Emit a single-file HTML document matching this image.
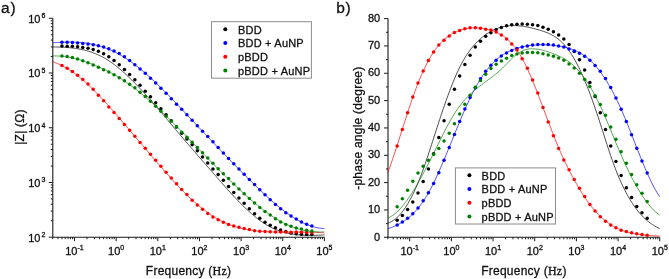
<!DOCTYPE html>
<html><head><meta charset="utf-8"><style>
html,body{margin:0;padding:0;background:#fff;}
body{width:669px;height:279px;overflow:hidden;}
svg{display:block;will-change:transform;}
text{font-family:"Liberation Sans",sans-serif;fill:#111;stroke:#111;stroke-width:0.3px;}
.tl{font-size:11px;}
.sup{font-size:7px;}
.lg{font-size:11px;letter-spacing:0.2px;}
.ttl{font-size:12px;letter-spacing:0.25px;}
.ser{font-family:"Liberation Serif",serif;}
.pl{font-size:15.5px;letter-spacing:0.8px;}
</style></head><body>
<svg width="669" height="279" viewBox="0 0 669 279"><path d="M52.8,18.3V237.2H324.4 M388.0,18.6V237.3H659.7" fill="none" stroke="#1a1a1a" stroke-width="1.1"/><path d="M52.72,237.2v2M57.93,237.2v2M61.96,237.2v2M65.26,237.2v2M68.05,237.2v2M70.46,237.2v2M72.59,237.2v2M74.50,237.2v4M87.04,237.2v2M94.37,237.2v2M99.58,237.2v2M103.61,237.2v2M106.91,237.2v2M109.70,237.2v2M112.11,237.2v2M114.24,237.2v2M116.15,237.2v4M128.69,237.2v2M136.02,237.2v2M141.23,237.2v2M145.26,237.2v2M148.56,237.2v2M151.35,237.2v2M153.76,237.2v2M155.89,237.2v2M157.80,237.2v4M170.34,237.2v2M177.67,237.2v2M182.88,237.2v2M186.91,237.2v2M190.21,237.2v2M193.00,237.2v2M195.41,237.2v2M197.54,237.2v2M199.45,237.2v4M211.99,237.2v2M219.32,237.2v2M224.53,237.2v2M228.56,237.2v2M231.86,237.2v2M234.65,237.2v2M237.06,237.2v2M239.19,237.2v2M241.10,237.2v4M253.64,237.2v2M260.97,237.2v2M266.18,237.2v2M270.21,237.2v2M273.51,237.2v2M276.30,237.2v2M278.71,237.2v2M280.84,237.2v2M282.75,237.2v4M295.29,237.2v2M302.62,237.2v2M307.83,237.2v2M311.86,237.2v2M315.16,237.2v2M317.95,237.2v2M320.36,237.2v2M322.49,237.2v2M324.40,237.2v4M387.91,237.3v2M393.12,237.3v2M397.16,237.3v2M400.46,237.3v2M403.25,237.3v2M405.66,237.3v2M407.79,237.3v2M409.70,237.3v4M422.24,237.3v2M429.58,237.3v2M434.79,237.3v2M438.83,237.3v2M442.13,237.3v2M444.92,237.3v2M447.33,237.3v2M449.46,237.3v2M451.37,237.3v4M463.91,237.3v2M471.25,237.3v2M476.46,237.3v2M480.50,237.3v2M483.80,237.3v2M486.59,237.3v2M489.00,237.3v2M491.13,237.3v2M493.04,237.3v4M505.58,237.3v2M512.92,237.3v2M518.13,237.3v2M522.17,237.3v2M525.47,237.3v2M528.26,237.3v2M530.67,237.3v2M532.80,237.3v2M534.71,237.3v4M547.25,237.3v2M554.59,237.3v2M559.80,237.3v2M563.84,237.3v2M567.14,237.3v2M569.93,237.3v2M572.34,237.3v2M574.47,237.3v2M576.38,237.3v4M588.92,237.3v2M596.26,237.3v2M601.47,237.3v2M605.51,237.3v2M608.81,237.3v2M611.60,237.3v2M614.01,237.3v2M616.14,237.3v2M618.05,237.3v4M630.59,237.3v2M637.93,237.3v2M643.14,237.3v2M647.18,237.3v2M650.48,237.3v2M653.27,237.3v2M655.68,237.3v2M657.81,237.3v2M659.72,237.3v4M52.8,237.20h-4M52.8,220.73h-2M52.8,211.09h-2M52.8,204.25h-2M52.8,198.95h-2M52.8,194.62h-2M52.8,190.95h-2M52.8,187.78h-2M52.8,184.98h-2M52.8,182.48h-4M52.8,166.00h-2M52.8,156.36h-2M52.8,149.53h-2M52.8,144.22h-2M52.8,139.89h-2M52.8,136.23h-2M52.8,133.05h-2M52.8,130.25h-2M52.8,127.75h-4M52.8,111.28h-2M52.8,101.64h-2M52.8,94.80h-2M52.8,89.50h-2M52.8,85.17h-2M52.8,81.50h-2M52.8,78.33h-2M52.8,75.53h-2M52.8,73.03h-4M52.8,56.55h-2M52.8,46.91h-2M52.8,40.08h-2M52.8,34.77h-2M52.8,30.44h-2M52.8,26.78h-2M52.8,23.60h-2M52.8,20.80h-2M52.8,18.30h-4M388.0,237.30h-4M388.0,223.63h-2M388.0,209.96h-4M388.0,196.29h-2M388.0,182.62h-4M388.0,168.96h-2M388.0,155.29h-4M388.0,141.62h-2M388.0,127.95h-4M388.0,114.28h-2M388.0,100.61h-4M388.0,86.94h-2M388.0,73.27h-4M388.0,59.61h-2M388.0,45.94h-4M388.0,32.27h-2M388.0,18.60h-4" fill="none" stroke="#1a1a1a" stroke-width="1"/><path d="M52.80,46.95 L53.71,46.96 L54.62,46.97 L55.53,46.99 L56.43,47.01 L57.34,47.03 L58.25,47.06 L59.16,47.08 L60.07,47.12 L60.98,47.15 L61.88,47.19 L62.79,47.23 L63.70,47.28 L64.61,47.33 L65.52,47.39 L66.43,47.45 L67.33,47.52 L68.24,47.59 L69.15,47.67 L70.06,47.76 L70.97,47.85 L71.88,47.95 L72.78,48.05 L73.69,48.17 L74.60,48.29 L75.51,48.42 L76.42,48.55 L77.33,48.70 L78.23,48.85 L79.14,49.01 L80.05,49.18 L80.96,49.36 L81.87,49.55 L82.78,49.75 L83.68,49.96 L84.59,50.18 L85.50,50.41 L86.41,50.65 L87.32,50.90 L88.23,51.17 L89.13,51.44 L90.04,51.73 L90.95,52.03 L91.86,52.34 L92.77,52.66 L93.68,53.00 L94.58,53.35 L95.49,53.71 L96.40,54.09 L97.31,54.48 L98.22,54.88 L99.13,55.30 L100.03,55.73 L100.94,56.18 L101.85,56.64 L102.76,57.12 L103.67,57.62 L104.58,58.13 L105.48,58.65 L106.39,59.19 L107.30,59.75 L108.21,60.33 L109.12,60.92 L110.03,61.53 L110.94,62.15 L111.84,62.79 L112.75,63.44 L113.66,64.11 L114.57,64.79 L115.48,65.48 L116.39,66.19 L117.29,66.92 L118.20,67.65 L119.11,68.40 L120.02,69.16 L120.93,69.94 L121.84,70.72 L122.74,71.52 L123.65,72.33 L124.56,73.15 L125.47,73.98 L126.38,74.82 L127.29,75.67 L128.19,76.53 L129.10,77.40 L130.01,78.28 L130.92,79.17 L131.83,80.06 L132.74,80.97 L133.64,81.88 L134.55,82.80 L135.46,83.73 L136.37,84.67 L137.28,85.61 L138.19,86.56 L139.09,87.52 L140.00,88.48 L140.91,89.45 L141.82,90.43 L142.73,91.41 L143.64,92.40 L144.54,93.39 L145.45,94.39 L146.36,95.39 L147.27,96.40 L148.18,97.42 L149.09,98.44 L149.99,99.46 L150.90,100.49 L151.81,101.52 L152.72,102.56 L153.63,103.60 L154.54,104.65 L155.44,105.70 L156.35,106.75 L157.26,107.80 L158.17,108.86 L159.08,109.92 L159.99,110.98 L160.89,112.05 L161.80,113.12 L162.71,114.19 L163.62,115.26 L164.53,116.33 L165.44,117.41 L166.35,118.48 L167.25,119.56 L168.16,120.64 L169.07,121.72 L169.98,122.80 L170.89,123.88 L171.80,124.96 L172.70,126.04 L173.61,127.13 L174.52,128.21 L175.43,129.29 L176.34,130.37 L177.25,131.45 L178.15,132.53 L179.06,133.60 L179.97,134.68 L180.88,135.75 L181.79,136.83 L182.70,137.90 L183.60,138.97 L184.51,140.03 L185.42,141.10 L186.33,142.16 L187.24,143.22 L188.15,144.28 L189.05,145.34 L189.96,146.39 L190.87,147.44 L191.78,148.50 L192.69,149.55 L193.60,150.60 L194.50,151.64 L195.41,152.69 L196.32,153.74 L197.23,154.78 L198.14,155.82 L199.05,156.87 L199.95,157.91 L200.86,158.95 L201.77,159.99 L202.68,161.03 L203.59,162.07 L204.50,163.11 L205.40,164.15 L206.31,165.19 L207.22,166.23 L208.13,167.27 L209.04,168.31 L209.95,169.35 L210.85,170.38 L211.76,171.42 L212.67,172.47 L213.58,173.51 L214.49,174.55 L215.40,175.59 L216.31,176.63 L217.21,177.67 L218.12,178.71 L219.03,179.75 L219.94,180.79 L220.85,181.83 L221.76,182.86 L222.66,183.90 L223.57,184.93 L224.48,185.96 L225.39,186.98 L226.30,188.00 L227.21,189.02 L228.11,190.03 L229.02,191.04 L229.93,192.04 L230.84,193.04 L231.75,194.04 L232.66,195.02 L233.56,196.01 L234.47,196.98 L235.38,197.95 L236.29,198.91 L237.20,199.87 L238.11,200.81 L239.01,201.75 L239.92,202.68 L240.83,203.61 L241.74,204.52 L242.65,205.43 L243.56,206.32 L244.46,207.21 L245.37,208.08 L246.28,208.94 L247.19,209.80 L248.10,210.64 L249.01,211.47 L249.91,212.29 L250.82,213.10 L251.73,213.90 L252.64,214.68 L253.55,215.45 L254.46,216.20 L255.36,216.95 L256.27,217.68 L257.18,218.39 L258.09,219.09 L259.00,219.78 L259.91,220.45 L260.81,221.10 L261.72,221.74 L262.63,222.36 L263.54,222.97 L264.45,223.56 L265.36,224.13 L266.26,224.69 L267.17,225.23 L268.08,225.75 L268.99,226.25 L269.90,226.74 L270.81,227.21 L271.72,227.66 L272.62,228.10 L273.53,228.52 L274.44,228.93 L275.35,229.32 L276.26,229.69 L277.17,230.06 L278.07,230.40 L278.98,230.74 L279.89,231.06 L280.80,231.36 L281.71,231.65 L282.62,231.93 L283.52,232.20 L284.43,232.45 L285.34,232.69 L286.25,232.92 L287.16,233.14 L288.07,233.34 L288.97,233.54 L289.88,233.72 L290.79,233.89 L291.70,234.05 L292.61,234.20 L293.52,234.34 L294.42,234.47 L295.33,234.59 L296.24,234.70 L297.15,234.81 L298.06,234.90 L298.97,234.99 L299.87,235.06 L300.78,235.13 L301.69,235.19 L302.60,235.25 L303.51,235.29 L304.42,235.33 L305.32,235.36 L306.23,235.39 L307.14,235.41 L308.05,235.42 L308.96,235.43 L309.87,235.43 L310.77,235.43 L311.68,235.42 L312.59,235.40 L313.50,235.39 L314.41,235.36 L315.32,235.34 L316.22,235.31 L317.13,235.28 L318.04,235.24 L318.95,235.20 L319.86,235.16 L320.77,235.11 L321.67,235.07 L322.58,235.02 L323.49,234.97 L324.40,234.92" fill="none" stroke="#000000" stroke-width="0.7"/><path d="M52.80,42.79 L53.71,42.72 L54.62,42.66 L55.53,42.60 L56.43,42.54 L57.34,42.49 L58.25,42.44 L59.16,42.39 L60.07,42.34 L60.98,42.30 L61.88,42.26 L62.79,42.23 L63.70,42.20 L64.61,42.17 L65.52,42.15 L66.43,42.13 L67.33,42.11 L68.24,42.10 L69.15,42.10 L70.06,42.10 L70.97,42.11 L71.88,42.12 L72.78,42.14 L73.69,42.16 L74.60,42.19 L75.51,42.23 L76.42,42.27 L77.33,42.32 L78.23,42.37 L79.14,42.44 L80.05,42.51 L80.96,42.58 L81.87,42.67 L82.78,42.76 L83.68,42.86 L84.59,42.97 L85.50,43.09 L86.41,43.21 L87.32,43.35 L88.23,43.49 L89.13,43.64 L90.04,43.80 L90.95,43.97 L91.86,44.15 L92.77,44.34 L93.68,44.54 L94.58,44.75 L95.49,44.97 L96.40,45.20 L97.31,45.44 L98.22,45.69 L99.13,45.95 L100.03,46.22 L100.94,46.50 L101.85,46.79 L102.76,47.09 L103.67,47.41 L104.58,47.73 L105.48,48.06 L106.39,48.40 L107.30,48.76 L108.21,49.12 L109.12,49.50 L110.03,49.88 L110.94,50.28 L111.84,50.69 L112.75,51.11 L113.66,51.54 L114.57,51.98 L115.48,52.43 L116.39,52.89 L117.29,53.37 L118.20,53.85 L119.11,54.35 L120.02,54.85 L120.93,55.37 L121.84,55.90 L122.74,56.44 L123.65,56.99 L124.56,57.56 L125.47,58.13 L126.38,58.72 L127.29,59.32 L128.19,59.92 L129.10,60.54 L130.01,61.17 L130.92,61.81 L131.83,62.46 L132.74,63.12 L133.64,63.79 L134.55,64.47 L135.46,65.16 L136.37,65.86 L137.28,66.57 L138.19,67.29 L139.09,68.01 L140.00,68.75 L140.91,69.49 L141.82,70.24 L142.73,71.01 L143.64,71.77 L144.54,72.55 L145.45,73.34 L146.36,74.13 L147.27,74.93 L148.18,75.73 L149.09,76.55 L149.99,77.37 L150.90,78.20 L151.81,79.03 L152.72,79.87 L153.63,80.72 L154.54,81.57 L155.44,82.43 L156.35,83.30 L157.26,84.17 L158.17,85.04 L159.08,85.93 L159.99,86.81 L160.89,87.71 L161.80,88.60 L162.71,89.50 L163.62,90.41 L164.53,91.32 L165.44,92.23 L166.35,93.15 L167.25,94.08 L168.16,95.00 L169.07,95.93 L169.98,96.86 L170.89,97.80 L171.80,98.74 L172.70,99.68 L173.61,100.63 L174.52,101.57 L175.43,102.52 L176.34,103.48 L177.25,104.43 L178.15,105.39 L179.06,106.34 L179.97,107.30 L180.88,108.26 L181.79,109.23 L182.70,110.19 L183.60,111.15 L184.51,112.12 L185.42,113.08 L186.33,114.05 L187.24,115.02 L188.15,115.98 L189.05,116.95 L189.96,117.91 L190.87,118.88 L191.78,119.85 L192.69,120.81 L193.60,121.78 L194.50,122.74 L195.41,123.71 L196.32,124.68 L197.23,125.64 L198.14,126.61 L199.05,127.57 L199.95,128.54 L200.86,129.50 L201.77,130.47 L202.68,131.43 L203.59,132.39 L204.50,133.36 L205.40,134.32 L206.31,135.28 L207.22,136.24 L208.13,137.20 L209.04,138.16 L209.95,139.12 L210.85,140.08 L211.76,141.04 L212.67,142.00 L213.58,142.95 L214.49,143.91 L215.40,144.86 L216.31,145.82 L217.21,146.77 L218.12,147.72 L219.03,148.67 L219.94,149.62 L220.85,150.57 L221.76,151.52 L222.66,152.47 L223.57,153.41 L224.48,154.36 L225.39,155.30 L226.30,156.24 L227.21,157.18 L228.11,158.12 L229.02,159.06 L229.93,160.00 L230.84,160.93 L231.75,161.87 L232.66,162.80 L233.56,163.73 L234.47,164.66 L235.38,165.59 L236.29,166.51 L237.20,167.44 L238.11,168.36 L239.01,169.28 L239.92,170.20 L240.83,171.12 L241.74,172.03 L242.65,172.95 L243.56,173.86 L244.46,174.77 L245.37,175.68 L246.28,176.58 L247.19,177.49 L248.10,178.39 L249.01,179.29 L249.91,180.19 L250.82,181.08 L251.73,181.98 L252.64,182.87 L253.55,183.76 L254.46,184.64 L255.36,185.53 L256.27,186.41 L257.18,187.29 L258.09,188.17 L259.00,189.04 L259.91,189.91 L260.81,190.77 L261.72,191.64 L262.63,192.50 L263.54,193.35 L264.45,194.20 L265.36,195.04 L266.26,195.88 L267.17,196.72 L268.08,197.54 L268.99,198.37 L269.90,199.18 L270.81,199.99 L271.72,200.80 L272.62,201.59 L273.53,202.39 L274.44,203.17 L275.35,203.94 L276.26,204.71 L277.17,205.47 L278.07,206.23 L278.98,206.97 L279.89,207.71 L280.80,208.43 L281.71,209.15 L282.62,209.86 L283.52,210.56 L284.43,211.25 L285.34,211.93 L286.25,212.60 L287.16,213.26 L288.07,213.91 L288.97,214.54 L289.88,215.17 L290.79,215.79 L291.70,216.39 L292.61,216.98 L293.52,217.56 L294.42,218.13 L295.33,218.69 L296.24,219.23 L297.15,219.76 L298.06,220.28 L298.97,220.78 L299.87,221.27 L300.78,221.75 L301.69,222.21 L302.60,222.66 L303.51,223.09 L304.42,223.51 L305.32,223.91 L306.23,224.30 L307.14,224.68 L308.05,225.03 L308.96,225.38 L309.87,225.70 L310.77,226.01 L311.68,226.30 L312.59,226.58 L313.50,226.84 L314.41,227.08 L315.32,227.30 L316.22,227.51 L317.13,227.70 L318.04,227.86 L318.95,228.02 L319.86,228.15 L320.77,228.26 L321.67,228.36 L322.58,228.43 L323.49,228.49 L324.40,228.52" fill="none" stroke="#0000ff" stroke-width="0.7"/><path d="M52.80,61.89 L53.71,62.17 L54.62,62.47 L55.53,62.79 L56.43,63.12 L57.34,63.47 L58.25,63.85 L59.16,64.24 L60.07,64.64 L60.98,65.07 L61.88,65.51 L62.79,65.97 L63.70,66.45 L64.61,66.94 L65.52,67.45 L66.43,67.97 L67.33,68.51 L68.24,69.07 L69.15,69.64 L70.06,70.23 L70.97,70.83 L71.88,71.45 L72.78,72.08 L73.69,72.72 L74.60,73.38 L75.51,74.06 L76.42,74.74 L77.33,75.44 L78.23,76.15 L79.14,76.88 L80.05,77.62 L80.96,78.37 L81.87,79.13 L82.78,79.90 L83.68,80.69 L84.59,81.49 L85.50,82.29 L86.41,83.11 L87.32,83.94 L88.23,84.78 L89.13,85.63 L90.04,86.49 L90.95,87.36 L91.86,88.24 L92.77,89.13 L93.68,90.03 L94.58,90.93 L95.49,91.85 L96.40,92.77 L97.31,93.70 L98.22,94.64 L99.13,95.59 L100.03,96.54 L100.94,97.50 L101.85,98.47 L102.76,99.45 L103.67,100.43 L104.58,101.41 L105.48,102.41 L106.39,103.41 L107.30,104.41 L108.21,105.42 L109.12,106.43 L110.03,107.45 L110.94,108.48 L111.84,109.51 L112.75,110.54 L113.66,111.57 L114.57,112.61 L115.48,113.66 L116.39,114.70 L117.29,115.75 L118.20,116.80 L119.11,117.86 L120.02,118.91 L120.93,119.97 L121.84,121.03 L122.74,122.09 L123.65,123.15 L124.56,124.22 L125.47,125.28 L126.38,126.35 L127.29,127.41 L128.19,128.48 L129.10,129.54 L130.01,130.61 L130.92,131.68 L131.83,132.75 L132.74,133.81 L133.64,134.88 L134.55,135.95 L135.46,137.02 L136.37,138.09 L137.28,139.16 L138.19,140.23 L139.09,141.30 L140.00,142.37 L140.91,143.44 L141.82,144.50 L142.73,145.57 L143.64,146.64 L144.54,147.71 L145.45,148.78 L146.36,149.84 L147.27,150.91 L148.18,151.98 L149.09,153.04 L149.99,154.11 L150.90,155.17 L151.81,156.23 L152.72,157.30 L153.63,158.36 L154.54,159.42 L155.44,160.48 L156.35,161.54 L157.26,162.59 L158.17,163.65 L159.08,164.70 L159.99,165.76 L160.89,166.81 L161.80,167.85 L162.71,168.90 L163.62,169.94 L164.53,170.98 L165.44,172.02 L166.35,173.05 L167.25,174.08 L168.16,175.10 L169.07,176.12 L169.98,177.14 L170.89,178.15 L171.80,179.15 L172.70,180.15 L173.61,181.15 L174.52,182.14 L175.43,183.12 L176.34,184.10 L177.25,185.07 L178.15,186.04 L179.06,187.00 L179.97,187.95 L180.88,188.89 L181.79,189.83 L182.70,190.76 L183.60,191.68 L184.51,192.59 L185.42,193.49 L186.33,194.39 L187.24,195.27 L188.15,196.15 L189.05,197.02 L189.96,197.88 L190.87,198.73 L191.78,199.57 L192.69,200.40 L193.60,201.22 L194.50,202.03 L195.41,202.83 L196.32,203.62 L197.23,204.40 L198.14,205.17 L199.05,205.93 L199.95,206.68 L200.86,207.42 L201.77,208.15 L202.68,208.87 L203.59,209.58 L204.50,210.27 L205.40,210.96 L206.31,211.63 L207.22,212.29 L208.13,212.94 L209.04,213.58 L209.95,214.21 L210.85,214.83 L211.76,215.43 L212.67,216.02 L213.58,216.60 L214.49,217.17 L215.40,217.73 L216.31,218.27 L217.21,218.80 L218.12,219.32 L219.03,219.83 L219.94,220.32 L220.85,220.80 L221.76,221.27 L222.66,221.72 L223.57,222.16 L224.48,222.59 L225.39,223.00 L226.30,223.40 L227.21,223.79 L228.11,224.17 L229.02,224.53 L229.93,224.89 L230.84,225.23 L231.75,225.56 L232.66,225.87 L233.56,226.18 L234.47,226.48 L235.38,226.76 L236.29,227.04 L237.20,227.30 L238.11,227.56 L239.01,227.80 L239.92,228.04 L240.83,228.27 L241.74,228.48 L242.65,228.69 L243.56,228.89 L244.46,229.08 L245.37,229.27 L246.28,229.44 L247.19,229.61 L248.10,229.77 L249.01,229.92 L249.91,230.07 L250.82,230.21 L251.73,230.34 L252.64,230.47 L253.55,230.59 L254.46,230.70 L255.36,230.81 L256.27,230.91 L257.18,231.01 L258.09,231.10 L259.00,231.19 L259.91,231.27 L260.81,231.35 L261.72,231.42 L262.63,231.49 L263.54,231.55 L264.45,231.61 L265.36,231.66 L266.26,231.71 L267.17,231.76 L268.08,231.80 L268.99,231.84 L269.90,231.87 L270.81,231.91 L271.72,231.94 L272.62,231.96 L273.53,231.98 L274.44,232.00 L275.35,232.02 L276.26,232.04 L277.17,232.05 L278.07,232.06 L278.98,232.07 L279.89,232.07 L280.80,232.08 L281.71,232.08 L282.62,232.08 L283.52,232.08 L284.43,232.08 L285.34,232.08 L286.25,232.08 L287.16,232.07 L288.07,232.07 L288.97,232.06 L289.88,232.06 L290.79,232.05 L291.70,232.05 L292.61,232.04 L293.52,232.03 L294.42,232.03 L295.33,232.02 L296.24,232.02 L297.15,232.02 L298.06,232.01 L298.97,232.01 L299.87,232.01 L300.78,232.01 L301.69,232.01 L302.60,232.02 L303.51,232.02 L304.42,232.03 L305.32,232.04 L306.23,232.05 L307.14,232.07 L308.05,232.08 L308.96,232.10 L309.87,232.12 L310.77,232.15 L311.68,232.17 L312.59,232.20 L313.50,232.24 L314.41,232.28 L315.32,232.32 L316.22,232.36 L317.13,232.41 L318.04,232.46 L318.95,232.52 L319.86,232.58 L320.77,232.64 L321.67,232.71 L322.58,232.79 L323.49,232.87 L324.40,232.95" fill="none" stroke="#ff0000" stroke-width="0.7"/><path d="M52.80,55.93 L53.71,55.92 L54.62,55.91 L55.53,55.92 L56.43,55.94 L57.34,55.97 L58.25,56.02 L59.16,56.07 L60.07,56.13 L60.98,56.21 L61.88,56.29 L62.79,56.38 L63.70,56.49 L64.61,56.60 L65.52,56.73 L66.43,56.86 L67.33,57.00 L68.24,57.16 L69.15,57.32 L70.06,57.49 L70.97,57.67 L71.88,57.86 L72.78,58.06 L73.69,58.27 L74.60,58.48 L75.51,58.71 L76.42,58.94 L77.33,59.18 L78.23,59.43 L79.14,59.69 L80.05,59.95 L80.96,60.22 L81.87,60.50 L82.78,60.79 L83.68,61.09 L84.59,61.39 L85.50,61.70 L86.41,62.01 L87.32,62.33 L88.23,62.66 L89.13,63.00 L90.04,63.34 L90.95,63.69 L91.86,64.04 L92.77,64.40 L93.68,64.77 L94.58,65.14 L95.49,65.52 L96.40,65.90 L97.31,66.29 L98.22,66.68 L99.13,67.09 L100.03,67.49 L100.94,67.91 L101.85,68.33 L102.76,68.76 L103.67,69.19 L104.58,69.63 L105.48,70.08 L106.39,70.53 L107.30,70.99 L108.21,71.46 L109.12,71.93 L110.03,72.41 L110.94,72.90 L111.84,73.40 L112.75,73.90 L113.66,74.41 L114.57,74.93 L115.48,75.46 L116.39,75.99 L117.29,76.53 L118.20,77.08 L119.11,77.64 L120.02,78.20 L120.93,78.77 L121.84,79.35 L122.74,79.94 L123.65,80.54 L124.56,81.14 L125.47,81.75 L126.38,82.37 L127.29,83.00 L128.19,83.64 L129.10,84.29 L130.01,84.94 L130.92,85.60 L131.83,86.27 L132.74,86.94 L133.64,87.63 L134.55,88.32 L135.46,89.01 L136.37,89.72 L137.28,90.43 L138.19,91.15 L139.09,91.87 L140.00,92.60 L140.91,93.34 L141.82,94.08 L142.73,94.83 L143.64,95.59 L144.54,96.35 L145.45,97.12 L146.36,97.90 L147.27,98.68 L148.18,99.46 L149.09,100.26 L149.99,101.05 L150.90,101.86 L151.81,102.66 L152.72,103.48 L153.63,104.29 L154.54,105.12 L155.44,105.94 L156.35,106.78 L157.26,107.61 L158.17,108.46 L159.08,109.30 L159.99,110.15 L160.89,111.01 L161.80,111.87 L162.71,112.73 L163.62,113.59 L164.53,114.47 L165.44,115.34 L166.35,116.22 L167.25,117.10 L168.16,117.98 L169.07,118.87 L169.98,119.76 L170.89,120.65 L171.80,121.55 L172.70,122.45 L173.61,123.35 L174.52,124.26 L175.43,125.17 L176.34,126.08 L177.25,126.99 L178.15,127.90 L179.06,128.82 L179.97,129.74 L180.88,130.66 L181.79,131.58 L182.70,132.51 L183.60,133.43 L184.51,134.36 L185.42,135.29 L186.33,136.22 L187.24,137.15 L188.15,138.08 L189.05,139.01 L189.96,139.95 L190.87,140.88 L191.78,141.82 L192.69,142.75 L193.60,143.69 L194.50,144.63 L195.41,145.56 L196.32,146.50 L197.23,147.44 L198.14,148.38 L199.05,149.32 L199.95,150.25 L200.86,151.19 L201.77,152.13 L202.68,153.06 L203.59,154.00 L204.50,154.94 L205.40,155.87 L206.31,156.80 L207.22,157.74 L208.13,158.67 L209.04,159.60 L209.95,160.53 L210.85,161.46 L211.76,162.39 L212.67,163.31 L213.58,164.24 L214.49,165.16 L215.40,166.08 L216.31,167.00 L217.21,167.92 L218.12,168.83 L219.03,169.75 L219.94,170.66 L220.85,171.57 L221.76,172.47 L222.66,173.38 L223.57,174.28 L224.48,175.18 L225.39,176.07 L226.30,176.97 L227.21,177.86 L228.11,178.75 L229.02,179.63 L229.93,180.51 L230.84,181.39 L231.75,182.26 L232.66,183.13 L233.56,184.00 L234.47,184.87 L235.38,185.73 L236.29,186.58 L237.20,187.43 L238.11,188.28 L239.01,189.13 L239.92,189.97 L240.83,190.80 L241.74,191.63 L242.65,192.46 L243.56,193.28 L244.46,194.10 L245.37,194.91 L246.28,195.72 L247.19,196.52 L248.10,197.32 L249.01,198.11 L249.91,198.90 L250.82,199.68 L251.73,200.46 L252.64,201.23 L253.55,201.99 L254.46,202.75 L255.36,203.51 L256.27,204.26 L257.18,205.00 L258.09,205.73 L259.00,206.46 L259.91,207.18 L260.81,207.90 L261.72,208.61 L262.63,209.31 L263.54,210.00 L264.45,210.69 L265.36,211.36 L266.26,212.03 L267.17,212.69 L268.08,213.34 L268.99,213.98 L269.90,214.62 L270.81,215.24 L271.72,215.86 L272.62,216.46 L273.53,217.06 L274.44,217.64 L275.35,218.22 L276.26,218.78 L277.17,219.33 L278.07,219.88 L278.98,220.41 L279.89,220.93 L280.80,221.44 L281.71,221.93 L282.62,222.42 L283.52,222.89 L284.43,223.35 L285.34,223.80 L286.25,224.23 L287.16,224.65 L288.07,225.06 L288.97,225.46 L289.88,225.84 L290.79,226.21 L291.70,226.57 L292.61,226.92 L293.52,227.25 L294.42,227.57 L295.33,227.88 L296.24,228.18 L297.15,228.47 L298.06,228.74 L298.97,229.00 L299.87,229.25 L300.78,229.49 L301.69,229.72 L302.60,229.93 L303.51,230.14 L304.42,230.33 L305.32,230.51 L306.23,230.68 L307.14,230.84 L308.05,230.99 L308.96,231.13 L309.87,231.25 L310.77,231.37 L311.68,231.48 L312.59,231.57 L313.50,231.66 L314.41,231.73 L315.32,231.79 L316.22,231.85 L317.13,231.89 L318.04,231.92 L318.95,231.95 L319.86,231.96 L320.77,231.96 L321.67,231.96 L322.58,231.94 L323.49,231.91 L324.40,231.88" fill="none" stroke="#008000" stroke-width="0.7"/><path d="M388.00,222.96 L388.91,222.67 L389.82,222.32 L390.73,221.92 L391.63,221.46 L392.54,220.94 L393.45,220.37 L394.36,219.74 L395.27,219.05 L396.18,218.31 L397.09,217.51 L398.00,216.65 L398.90,215.73 L399.81,214.76 L400.72,213.72 L401.63,212.63 L402.54,211.49 L403.45,210.28 L404.36,209.01 L405.27,207.69 L406.17,206.31 L407.08,204.87 L407.99,203.37 L408.90,201.81 L409.81,200.20 L410.72,198.52 L411.63,196.78 L412.53,194.99 L413.44,193.13 L414.35,191.22 L415.26,189.25 L416.17,187.21 L417.08,185.12 L417.99,182.97 L418.90,180.76 L419.80,178.48 L420.71,176.15 L421.62,173.75 L422.53,171.30 L423.44,168.79 L424.35,166.23 L425.26,163.63 L426.17,160.98 L427.07,158.30 L427.98,155.58 L428.89,152.83 L429.80,150.06 L430.71,147.27 L431.62,144.46 L432.53,141.64 L433.43,138.82 L434.34,135.98 L435.25,133.15 L436.16,130.33 L437.07,127.51 L437.98,124.71 L438.89,121.93 L439.80,119.16 L440.70,116.42 L441.61,113.70 L442.52,111.00 L443.43,108.34 L444.34,105.70 L445.25,103.09 L446.16,100.51 L447.07,97.97 L447.97,95.46 L448.88,93.00 L449.79,90.57 L450.70,88.19 L451.61,85.84 L452.52,83.55 L453.43,81.30 L454.33,79.11 L455.24,76.96 L456.15,74.87 L457.06,72.84 L457.97,70.86 L458.88,68.94 L459.79,67.09 L460.70,65.29 L461.60,63.56 L462.51,61.89 L463.42,60.28 L464.33,58.72 L465.24,57.22 L466.15,55.78 L467.06,54.39 L467.97,53.04 L468.87,51.75 L469.78,50.50 L470.69,49.30 L471.60,48.15 L472.51,47.03 L473.42,45.95 L474.33,44.92 L475.23,43.92 L476.14,42.95 L477.05,42.02 L477.96,41.12 L478.87,40.25 L479.78,39.41 L480.69,38.60 L481.60,37.82 L482.50,37.06 L483.41,36.34 L484.32,35.64 L485.23,34.97 L486.14,34.32 L487.05,33.70 L487.96,33.11 L488.87,32.55 L489.77,32.00 L490.68,31.49 L491.59,31.00 L492.50,30.53 L493.41,30.09 L494.32,29.67 L495.23,29.27 L496.13,28.90 L497.04,28.54 L497.95,28.22 L498.86,27.91 L499.77,27.62 L500.68,27.35 L501.59,27.11 L502.50,26.88 L503.40,26.67 L504.31,26.49 L505.22,26.32 L506.13,26.17 L507.04,26.04 L507.95,25.92 L508.86,25.83 L509.77,25.75 L510.67,25.69 L511.58,25.64 L512.49,25.61 L513.40,25.59 L514.31,25.59 L515.22,25.61 L516.13,25.64 L517.03,25.68 L517.94,25.74 L518.85,25.81 L519.76,25.89 L520.67,25.98 L521.58,26.09 L522.49,26.21 L523.40,26.34 L524.30,26.48 L525.21,26.63 L526.12,26.79 L527.03,26.96 L527.94,27.14 L528.85,27.33 L529.76,27.53 L530.67,27.74 L531.57,27.95 L532.48,28.17 L533.39,28.40 L534.30,28.64 L535.21,28.88 L536.12,29.13 L537.03,29.38 L537.93,29.64 L538.84,29.90 L539.75,30.17 L540.66,30.44 L541.57,30.72 L542.48,31.01 L543.39,31.31 L544.30,31.62 L545.20,31.95 L546.11,32.29 L547.02,32.64 L547.93,33.02 L548.84,33.41 L549.75,33.83 L550.66,34.27 L551.57,34.73 L552.47,35.22 L553.38,35.74 L554.29,36.28 L555.20,36.86 L556.11,37.47 L557.02,38.12 L557.93,38.80 L558.83,39.52 L559.74,40.28 L560.65,41.08 L561.56,41.93 L562.47,42.81 L563.38,43.75 L564.29,44.73 L565.20,45.76 L566.10,46.84 L567.01,47.97 L567.92,49.15 L568.83,50.40 L569.74,51.69 L570.65,53.04 L571.56,54.45 L572.47,55.91 L573.37,57.42 L574.28,58.98 L575.19,60.60 L576.10,62.26 L577.01,63.98 L577.92,65.75 L578.83,67.57 L579.73,69.44 L580.64,71.35 L581.55,73.32 L582.46,75.33 L583.37,77.40 L584.28,79.51 L585.19,81.66 L586.10,83.86 L587.00,86.11 L587.91,88.41 L588.82,90.74 L589.73,93.13 L590.64,95.55 L591.55,98.02 L592.46,100.54 L593.37,103.09 L594.27,105.69 L595.18,108.31 L596.09,110.98 L597.00,113.67 L597.91,116.39 L598.82,119.14 L599.73,121.91 L600.63,124.71 L601.54,127.52 L602.45,130.35 L603.36,133.19 L604.27,136.03 L605.18,138.88 L606.09,141.72 L607.00,144.55 L607.90,147.35 L608.81,150.13 L609.72,152.86 L610.63,155.56 L611.54,158.20 L612.45,160.79 L613.36,163.31 L614.27,165.77 L615.17,168.17 L616.08,170.52 L616.99,172.80 L617.90,175.02 L618.81,177.19 L619.72,179.31 L620.63,181.36 L621.53,183.37 L622.44,185.31 L623.35,187.21 L624.26,189.05 L625.17,190.85 L626.08,192.59 L626.99,194.28 L627.90,195.92 L628.80,197.51 L629.71,199.06 L630.62,200.56 L631.53,202.01 L632.44,203.42 L633.35,204.78 L634.26,206.10 L635.17,207.38 L636.07,208.62 L636.98,209.81 L637.89,210.96 L638.80,212.08 L639.71,213.15 L640.62,214.19 L641.53,215.19 L642.43,216.15 L643.34,217.08 L644.25,217.97 L645.16,218.83 L646.07,219.65 L646.98,220.45 L647.89,221.21 L648.80,221.94 L649.70,222.63 L650.61,223.30 L651.52,223.95 L652.43,224.56 L653.34,225.15 L654.25,225.71 L655.16,226.24 L656.07,226.75 L656.97,227.24 L657.88,227.70 L658.79,228.14 L659.70,228.56" fill="none" stroke="#000000" stroke-width="0.7"/><path d="M388.00,228.66 L388.91,228.35 L389.82,228.04 L390.73,227.71 L391.63,227.38 L392.54,227.03 L393.45,226.66 L394.36,226.28 L395.27,225.89 L396.18,225.47 L397.09,225.04 L398.00,224.59 L398.90,224.12 L399.81,223.63 L400.72,223.12 L401.63,222.59 L402.54,222.04 L403.45,221.46 L404.36,220.85 L405.27,220.22 L406.17,219.57 L407.08,218.89 L407.99,218.17 L408.90,217.43 L409.81,216.66 L410.72,215.86 L411.63,215.03 L412.53,214.16 L413.44,213.27 L414.35,212.33 L415.26,211.36 L416.17,210.36 L417.08,209.32 L417.99,208.24 L418.90,207.12 L419.80,205.97 L420.71,204.77 L421.62,203.53 L422.53,202.25 L423.44,200.92 L424.35,199.56 L425.26,198.14 L426.17,196.69 L427.07,195.18 L427.98,193.63 L428.89,192.03 L429.80,190.38 L430.71,188.69 L431.62,186.95 L432.53,185.17 L433.43,183.35 L434.34,181.49 L435.25,179.60 L436.16,177.67 L437.07,175.71 L437.98,173.71 L438.89,171.69 L439.80,169.64 L440.70,167.57 L441.61,165.47 L442.52,163.35 L443.43,161.21 L444.34,159.05 L445.25,156.88 L446.16,154.69 L447.07,152.49 L447.97,150.28 L448.88,148.06 L449.79,145.83 L450.70,143.60 L451.61,141.37 L452.52,139.13 L453.43,136.90 L454.33,134.67 L455.24,132.44 L456.15,130.22 L457.06,128.01 L457.97,125.80 L458.88,123.61 L459.79,121.44 L460.70,119.28 L461.60,117.13 L462.51,115.00 L463.42,112.90 L464.33,110.81 L465.24,108.75 L466.15,106.72 L467.06,104.71 L467.97,102.73 L468.87,100.78 L469.78,98.86 L470.69,96.97 L471.60,95.12 L472.51,93.30 L473.42,91.52 L474.33,89.78 L475.23,88.08 L476.14,86.42 L477.05,84.81 L477.96,83.23 L478.87,81.70 L479.78,80.21 L480.69,78.76 L481.60,77.35 L482.50,75.98 L483.41,74.64 L484.32,73.35 L485.23,72.10 L486.14,70.88 L487.05,69.70 L487.96,68.56 L488.87,67.46 L489.77,66.39 L490.68,65.36 L491.59,64.37 L492.50,63.41 L493.41,62.49 L494.32,61.60 L495.23,60.75 L496.13,59.92 L497.04,59.13 L497.95,58.37 L498.86,57.64 L499.77,56.94 L500.68,56.27 L501.59,55.63 L502.50,55.01 L503.40,54.42 L504.31,53.86 L505.22,53.32 L506.13,52.80 L507.04,52.31 L507.95,51.85 L508.86,51.40 L509.77,50.98 L510.67,50.57 L511.58,50.19 L512.49,49.82 L513.40,49.47 L514.31,49.14 L515.22,48.83 L516.13,48.54 L517.03,48.25 L517.94,47.99 L518.85,47.73 L519.76,47.49 L520.67,47.27 L521.58,47.05 L522.49,46.84 L523.40,46.65 L524.30,46.46 L525.21,46.29 L526.12,46.13 L527.03,45.97 L527.94,45.83 L528.85,45.69 L529.76,45.56 L530.67,45.45 L531.57,45.34 L532.48,45.24 L533.39,45.16 L534.30,45.08 L535.21,45.01 L536.12,44.95 L537.03,44.90 L537.93,44.85 L538.84,44.82 L539.75,44.80 L540.66,44.78 L541.57,44.77 L542.48,44.77 L543.39,44.78 L544.30,44.80 L545.20,44.82 L546.11,44.86 L547.02,44.90 L547.93,44.95 L548.84,45.01 L549.75,45.07 L550.66,45.14 L551.57,45.23 L552.47,45.31 L553.38,45.41 L554.29,45.51 L555.20,45.62 L556.11,45.74 L557.02,45.86 L557.93,45.99 L558.83,46.13 L559.74,46.28 L560.65,46.43 L561.56,46.59 L562.47,46.76 L563.38,46.95 L564.29,47.14 L565.20,47.34 L566.10,47.56 L567.01,47.79 L567.92,48.03 L568.83,48.29 L569.74,48.56 L570.65,48.85 L571.56,49.15 L572.47,49.48 L573.37,49.82 L574.28,50.18 L575.19,50.56 L576.10,50.97 L577.01,51.39 L577.92,51.84 L578.83,52.31 L579.73,52.80 L580.64,53.32 L581.55,53.86 L582.46,54.43 L583.37,55.03 L584.28,55.65 L585.19,56.30 L586.10,56.98 L587.00,57.70 L587.91,58.44 L588.82,59.21 L589.73,60.02 L590.64,60.86 L591.55,61.73 L592.46,62.63 L593.37,63.57 L594.27,64.55 L595.18,65.55 L596.09,66.59 L597.00,67.67 L597.91,68.78 L598.82,69.92 L599.73,71.10 L600.63,72.31 L601.54,73.55 L602.45,74.84 L603.36,76.15 L604.27,77.50 L605.18,78.89 L606.09,80.31 L607.00,81.77 L607.90,83.27 L608.81,84.79 L609.72,86.36 L610.63,87.96 L611.54,89.60 L612.45,91.27 L613.36,92.98 L614.27,94.73 L615.17,96.51 L616.08,98.33 L616.99,100.19 L617.90,102.08 L618.81,104.02 L619.72,105.99 L620.63,107.99 L621.53,110.04 L622.44,112.12 L623.35,114.23 L624.26,116.38 L625.17,118.55 L626.08,120.75 L626.99,122.98 L627.90,125.22 L628.80,127.49 L629.71,129.77 L630.62,132.06 L631.53,134.36 L632.44,136.67 L633.35,138.99 L634.26,141.31 L635.17,143.63 L636.07,145.94 L636.98,148.25 L637.89,150.55 L638.80,152.85 L639.71,155.13 L640.62,157.39 L641.53,159.63 L642.43,161.86 L643.34,164.06 L644.25,166.23 L645.16,168.38 L646.07,170.49 L646.98,172.58 L647.89,174.62 L648.80,176.62 L649.70,178.59 L650.61,180.51 L651.52,182.38 L652.43,184.20 L653.34,185.97 L654.25,187.68 L655.16,189.34 L656.07,190.94 L656.97,192.47 L657.88,193.94 L658.79,195.34 L659.70,196.67" fill="none" stroke="#0000ff" stroke-width="0.7"/><path d="M388.00,172.25 L388.91,169.77 L389.82,167.24 L390.73,164.66 L391.63,162.03 L392.54,159.37 L393.45,156.67 L394.36,153.93 L395.27,151.17 L396.18,148.39 L397.09,145.58 L398.00,142.75 L398.90,139.91 L399.81,137.06 L400.72,134.20 L401.63,131.34 L402.54,128.48 L403.45,125.62 L404.36,122.77 L405.27,119.94 L406.17,117.12 L407.08,114.31 L407.99,111.54 L408.90,108.78 L409.81,106.06 L410.72,103.37 L411.63,100.72 L412.53,98.12 L413.44,95.55 L414.35,93.04 L415.26,90.57 L416.17,88.15 L417.08,85.77 L417.99,83.45 L418.90,81.18 L419.80,78.96 L420.71,76.79 L421.62,74.68 L422.53,72.61 L423.44,70.61 L424.35,68.65 L425.26,66.76 L426.17,64.92 L427.07,63.14 L427.98,61.41 L428.89,59.74 L429.80,58.14 L430.71,56.59 L431.62,55.10 L432.53,53.66 L433.43,52.27 L434.34,50.94 L435.25,49.66 L436.16,48.43 L437.07,47.25 L437.98,46.12 L438.89,45.04 L439.80,44.00 L440.70,43.01 L441.61,42.05 L442.52,41.15 L443.43,40.28 L444.34,39.45 L445.25,38.67 L446.16,37.92 L447.07,37.20 L447.97,36.53 L448.88,35.88 L449.79,35.27 L450.70,34.70 L451.61,34.15 L452.52,33.63 L453.43,33.14 L454.33,32.68 L455.24,32.25 L456.15,31.84 L457.06,31.45 L457.97,31.09 L458.88,30.75 L459.79,30.42 L460.70,30.12 L461.60,29.84 L462.51,29.58 L463.42,29.33 L464.33,29.11 L465.24,28.90 L466.15,28.71 L467.06,28.54 L467.97,28.39 L468.87,28.26 L469.78,28.15 L470.69,28.05 L471.60,27.97 L472.51,27.91 L473.42,27.87 L474.33,27.84 L475.23,27.84 L476.14,27.85 L477.05,27.87 L477.96,27.92 L478.87,27.98 L479.78,28.05 L480.69,28.15 L481.60,28.26 L482.50,28.38 L483.41,28.53 L484.32,28.69 L485.23,28.86 L486.14,29.05 L487.05,29.26 L487.96,29.48 L488.87,29.72 L489.77,29.98 L490.68,30.25 L491.59,30.53 L492.50,30.83 L493.41,31.15 L494.32,31.48 L495.23,31.84 L496.13,32.22 L497.04,32.62 L497.95,33.05 L498.86,33.50 L499.77,33.98 L500.68,34.49 L501.59,35.03 L502.50,35.60 L503.40,36.21 L504.31,36.85 L505.22,37.52 L506.13,38.23 L507.04,38.98 L507.95,39.77 L508.86,40.60 L509.77,41.48 L510.67,42.40 L511.58,43.36 L512.49,44.37 L513.40,45.43 L514.31,46.54 L515.22,47.71 L516.13,48.92 L517.03,50.19 L517.94,51.51 L518.85,52.89 L519.76,54.33 L520.67,55.83 L521.58,57.39 L522.49,59.01 L523.40,60.70 L524.30,62.44 L525.21,64.24 L526.12,66.10 L527.03,68.01 L527.94,69.97 L528.85,71.98 L529.76,74.03 L530.67,76.12 L531.57,78.26 L532.48,80.43 L533.39,82.64 L534.30,84.87 L535.21,87.14 L536.12,89.44 L537.03,91.76 L537.93,94.10 L538.84,96.46 L539.75,98.84 L540.66,101.23 L541.57,103.64 L542.48,106.05 L543.39,108.47 L544.30,110.90 L545.20,113.32 L546.11,115.75 L547.02,118.17 L547.93,120.59 L548.84,123.00 L549.75,125.40 L550.66,127.78 L551.57,130.15 L552.47,132.50 L553.38,134.83 L554.29,137.14 L555.20,139.42 L556.11,141.67 L557.02,143.89 L557.93,146.08 L558.83,148.23 L559.74,150.34 L560.65,152.41 L561.56,154.45 L562.47,156.46 L563.38,158.43 L564.29,160.37 L565.20,162.28 L566.10,164.16 L567.01,166.01 L567.92,167.83 L568.83,169.62 L569.74,171.39 L570.65,173.13 L571.56,174.85 L572.47,176.54 L573.37,178.22 L574.28,179.87 L575.19,181.51 L576.10,183.12 L577.01,184.71 L577.92,186.28 L578.83,187.83 L579.73,189.36 L580.64,190.86 L581.55,192.33 L582.46,193.78 L583.37,195.21 L584.28,196.61 L585.19,197.98 L586.10,199.32 L587.00,200.63 L587.91,201.92 L588.82,203.17 L589.73,204.39 L590.64,205.58 L591.55,206.74 L592.46,207.87 L593.37,208.96 L594.27,210.03 L595.18,211.07 L596.09,212.07 L597.00,213.05 L597.91,214.00 L598.82,214.92 L599.73,215.81 L600.63,216.68 L601.54,217.52 L602.45,218.33 L603.36,219.12 L604.27,219.88 L605.18,220.62 L606.09,221.33 L607.00,222.01 L607.90,222.68 L608.81,223.32 L609.72,223.94 L610.63,224.53 L611.54,225.11 L612.45,225.66 L613.36,226.19 L614.27,226.70 L615.17,227.20 L616.08,227.67 L616.99,228.12 L617.90,228.55 L618.81,228.97 L619.72,229.37 L620.63,229.75 L621.53,230.11 L622.44,230.46 L623.35,230.79 L624.26,231.11 L625.17,231.41 L626.08,231.69 L626.99,231.97 L627.90,232.22 L628.80,232.47 L629.71,232.70 L630.62,232.92 L631.53,233.13 L632.44,233.32 L633.35,233.51 L634.26,233.68 L635.17,233.85 L636.07,234.00 L636.98,234.15 L637.89,234.28 L638.80,234.41 L639.71,234.53 L640.62,234.65 L641.53,234.75 L642.43,234.85 L643.34,234.94 L644.25,235.03 L645.16,235.11 L646.07,235.19 L646.98,235.26 L647.89,235.33 L648.80,235.40 L649.70,235.46 L650.61,235.52 L651.52,235.58 L652.43,235.64 L653.34,235.69 L654.25,235.75 L655.16,235.80 L656.07,235.86 L656.97,235.91 L657.88,235.97 L658.79,236.03 L659.70,236.09" fill="none" stroke="#ff0000" stroke-width="0.7"/><path d="M388.00,217.92 L388.91,217.54 L389.82,217.10 L390.73,216.61 L391.63,216.07 L392.54,215.48 L393.45,214.84 L394.36,214.16 L395.27,213.43 L396.18,212.66 L397.09,211.84 L398.00,210.97 L398.90,210.07 L399.81,209.12 L400.72,208.14 L401.63,207.11 L402.54,206.05 L403.45,204.94 L404.36,203.81 L405.27,202.63 L406.17,201.42 L407.08,200.18 L407.99,198.90 L408.90,197.59 L409.81,196.25 L410.72,194.88 L411.63,193.49 L412.53,192.06 L413.44,190.61 L414.35,189.13 L415.26,187.62 L416.17,186.09 L417.08,184.54 L417.99,182.96 L418.90,181.36 L419.80,179.74 L420.71,178.10 L421.62,176.45 L422.53,174.77 L423.44,173.08 L424.35,171.37 L425.26,169.65 L426.17,167.91 L427.07,166.16 L427.98,164.40 L428.89,162.63 L429.80,160.84 L430.71,159.05 L431.62,157.25 L432.53,155.44 L433.43,153.62 L434.34,151.80 L435.25,149.98 L436.16,148.15 L437.07,146.31 L437.98,144.48 L438.89,142.65 L439.80,140.81 L440.70,138.99 L441.61,137.17 L442.52,135.35 L443.43,133.56 L444.34,131.77 L445.25,130.01 L446.16,128.26 L447.07,126.54 L447.97,124.84 L448.88,123.17 L449.79,121.53 L450.70,119.93 L451.61,118.36 L452.52,116.82 L453.43,115.33 L454.33,113.88 L455.24,112.47 L456.15,111.09 L457.06,109.76 L457.97,108.46 L458.88,107.20 L459.79,105.98 L460.70,104.79 L461.60,103.63 L462.51,102.51 L463.42,101.42 L464.33,100.36 L465.24,99.34 L466.15,98.34 L467.06,97.38 L467.97,96.44 L468.87,95.52 L469.78,94.63 L470.69,93.77 L471.60,92.92 L472.51,92.10 L473.42,91.30 L474.33,90.51 L475.23,89.74 L476.14,88.99 L477.05,88.25 L477.96,87.52 L478.87,86.81 L479.78,86.10 L480.69,85.40 L481.60,84.72 L482.50,84.04 L483.41,83.36 L484.32,82.69 L485.23,82.02 L486.14,81.35 L487.05,80.68 L487.96,80.01 L488.87,79.34 L489.77,78.66 L490.68,77.98 L491.59,77.30 L492.50,76.60 L493.41,75.90 L494.32,75.18 L495.23,74.46 L496.13,73.72 L497.04,72.96 L497.95,72.20 L498.86,71.41 L499.77,70.61 L500.68,69.78 L501.59,68.94 L502.50,68.08 L503.40,67.19 L504.31,66.29 L505.22,65.37 L506.13,64.44 L507.04,63.51 L507.95,62.58 L508.86,61.65 L509.77,60.72 L510.67,59.81 L511.58,58.91 L512.49,58.03 L513.40,57.18 L514.31,56.35 L515.22,55.55 L516.13,54.79 L517.03,54.07 L517.94,53.39 L518.85,52.76 L519.76,52.17 L520.67,51.65 L521.58,51.17 L522.49,50.74 L523.40,50.37 L524.30,50.03 L525.21,49.74 L526.12,49.50 L527.03,49.29 L527.94,49.12 L528.85,48.99 L529.76,48.89 L530.67,48.83 L531.57,48.79 L532.48,48.79 L533.39,48.81 L534.30,48.85 L535.21,48.92 L536.12,49.01 L537.03,49.12 L537.93,49.24 L538.84,49.39 L539.75,49.56 L540.66,49.74 L541.57,49.94 L542.48,50.16 L543.39,50.39 L544.30,50.63 L545.20,50.89 L546.11,51.17 L547.02,51.45 L547.93,51.75 L548.84,52.06 L549.75,52.38 L550.66,52.71 L551.57,53.05 L552.47,53.40 L553.38,53.75 L554.29,54.11 L555.20,54.48 L556.11,54.86 L557.02,55.24 L557.93,55.63 L558.83,56.04 L559.74,56.46 L560.65,56.89 L561.56,57.34 L562.47,57.81 L563.38,58.30 L564.29,58.81 L565.20,59.35 L566.10,59.90 L567.01,60.49 L567.92,61.10 L568.83,61.74 L569.74,62.42 L570.65,63.12 L571.56,63.86 L572.47,64.63 L573.37,65.44 L574.28,66.29 L575.19,67.16 L576.10,68.08 L577.01,69.02 L577.92,70.01 L578.83,71.03 L579.73,72.08 L580.64,73.17 L581.55,74.30 L582.46,75.46 L583.37,76.66 L584.28,77.90 L585.19,79.17 L586.10,80.48 L587.00,81.83 L587.91,83.22 L588.82,84.64 L589.73,86.11 L590.64,87.61 L591.55,89.15 L592.46,90.72 L593.37,92.34 L594.27,94.00 L595.18,95.69 L596.09,97.43 L597.00,99.20 L597.91,101.01 L598.82,102.87 L599.73,104.76 L600.63,106.70 L601.54,108.67 L602.45,110.68 L603.36,112.73 L604.27,114.81 L605.18,116.91 L606.09,119.04 L607.00,121.19 L607.90,123.35 L608.81,125.54 L609.72,127.73 L610.63,129.94 L611.54,132.15 L612.45,134.36 L613.36,136.57 L614.27,138.78 L615.17,140.98 L616.08,143.18 L616.99,145.36 L617.90,147.52 L618.81,149.67 L619.72,151.80 L620.63,153.90 L621.53,155.97 L622.44,158.03 L623.35,160.05 L624.26,162.05 L625.17,164.03 L626.08,165.98 L626.99,167.90 L627.90,169.79 L628.80,171.66 L629.71,173.49 L630.62,175.30 L631.53,177.08 L632.44,178.83 L633.35,180.55 L634.26,182.23 L635.17,183.89 L636.07,185.52 L636.98,187.11 L637.89,188.67 L638.80,190.20 L639.71,191.69 L640.62,193.15 L641.53,194.58 L642.43,195.97 L643.34,197.32 L644.25,198.64 L645.16,199.93 L646.07,201.18 L646.98,202.39 L647.89,203.56 L648.80,204.69 L649.70,205.79 L650.61,206.85 L651.52,207.87 L652.43,208.85 L653.34,209.79 L654.25,210.68 L655.16,211.54 L656.07,212.36 L656.97,213.13 L657.88,213.86 L658.79,214.55 L659.70,215.20" fill="none" stroke="#008000" stroke-width="0.7"/><g fill="#000000"><circle cx="61.96" cy="45.97" r="1.75"/><circle cx="67.17" cy="46.15" r="1.75"/><circle cx="72.37" cy="46.35" r="1.75"/><circle cx="77.58" cy="46.80" r="1.75"/><circle cx="82.78" cy="47.50" r="1.75"/><circle cx="87.99" cy="48.25" r="1.75"/><circle cx="93.20" cy="49.55" r="1.75"/><circle cx="98.40" cy="51.15" r="1.75"/><circle cx="103.61" cy="53.80" r="1.75"/><circle cx="108.82" cy="56.63" r="1.75"/><circle cx="114.02" cy="60.50" r="1.75"/><circle cx="119.23" cy="64.70" r="1.75"/><circle cx="124.44" cy="69.40" r="1.75"/><circle cx="129.64" cy="74.55" r="1.75"/><circle cx="134.85" cy="79.70" r="1.75"/><circle cx="140.05" cy="85.35" r="1.75"/><circle cx="145.26" cy="91.20" r="1.75"/><circle cx="150.47" cy="96.83" r="1.75"/><circle cx="155.67" cy="102.70" r="1.75"/><circle cx="160.88" cy="108.75" r="1.75"/><circle cx="166.09" cy="114.80" r="1.75"/><circle cx="171.29" cy="120.80" r="1.75"/><circle cx="176.50" cy="127.01" r="1.75"/><circle cx="181.70" cy="133.20" r="1.75"/><circle cx="186.91" cy="139.10" r="1.75"/><circle cx="192.12" cy="144.80" r="1.75"/><circle cx="197.32" cy="150.78" r="1.75"/><circle cx="202.53" cy="156.90" r="1.75"/><circle cx="207.74" cy="163.00" r="1.75"/><circle cx="212.94" cy="169.00" r="1.75"/><circle cx="218.15" cy="174.40" r="1.75"/><circle cx="223.35" cy="180.36" r="1.75"/><circle cx="228.56" cy="186.50" r="1.75"/><circle cx="233.77" cy="192.50" r="1.75"/><circle cx="238.97" cy="198.00" r="1.75"/><circle cx="244.18" cy="203.30" r="1.75"/><circle cx="249.38" cy="208.80" r="1.75"/><circle cx="254.59" cy="213.65" r="1.75"/><circle cx="259.80" cy="218.15" r="1.75"/><circle cx="265.00" cy="222.15" r="1.75"/><circle cx="270.21" cy="225.30" r="1.75"/><circle cx="275.42" cy="227.85" r="1.75"/><circle cx="280.62" cy="230.10" r="1.75"/><circle cx="285.83" cy="231.50" r="1.75"/><circle cx="291.03" cy="232.90" r="1.75"/><circle cx="296.24" cy="233.80" r="1.75"/><circle cx="301.45" cy="234.30" r="1.75"/><circle cx="306.65" cy="234.50" r="1.75"/><circle cx="311.86" cy="234.50" r="1.75"/><circle cx="397.16" cy="220.35" r="1.75"/><circle cx="402.37" cy="215.50" r="1.75"/><circle cx="407.58" cy="209.55" r="1.75"/><circle cx="412.79" cy="202.10" r="1.75"/><circle cx="418.00" cy="193.05" r="1.75"/><circle cx="423.20" cy="181.50" r="1.75"/><circle cx="428.41" cy="168.90" r="1.75"/><circle cx="433.62" cy="153.70" r="1.75"/><circle cx="438.83" cy="137.60" r="1.75"/><circle cx="444.04" cy="120.80" r="1.75"/><circle cx="449.25" cy="104.30" r="1.75"/><circle cx="454.46" cy="89.35" r="1.75"/><circle cx="459.67" cy="76.10" r="1.75"/><circle cx="464.87" cy="64.53" r="1.75"/><circle cx="470.08" cy="55.25" r="1.75"/><circle cx="475.29" cy="47.10" r="1.75"/><circle cx="480.50" cy="41.20" r="1.75"/><circle cx="485.71" cy="36.30" r="1.75"/><circle cx="490.92" cy="32.70" r="1.75"/><circle cx="496.13" cy="29.80" r="1.75"/><circle cx="501.34" cy="27.40" r="1.75"/><circle cx="506.54" cy="25.80" r="1.75"/><circle cx="511.75" cy="24.80" r="1.75"/><circle cx="516.96" cy="24.30" r="1.75"/><circle cx="522.17" cy="24.10" r="1.75"/><circle cx="527.38" cy="24.30" r="1.75"/><circle cx="532.59" cy="24.80" r="1.75"/><circle cx="537.80" cy="25.60" r="1.75"/><circle cx="543.00" cy="27.20" r="1.75"/><circle cx="548.21" cy="29.20" r="1.75"/><circle cx="553.42" cy="31.70" r="1.75"/><circle cx="558.63" cy="34.90" r="1.75"/><circle cx="563.84" cy="39.00" r="1.75"/><circle cx="569.05" cy="44.50" r="1.75"/><circle cx="574.26" cy="51.40" r="1.75"/><circle cx="579.47" cy="59.65" r="1.75"/><circle cx="584.68" cy="70.10" r="1.75"/><circle cx="589.88" cy="82.50" r="1.75"/><circle cx="595.09" cy="96.45" r="1.75"/><circle cx="600.30" cy="112.70" r="1.75"/><circle cx="605.51" cy="129.40" r="1.75"/><circle cx="610.72" cy="146.10" r="1.75"/><circle cx="615.93" cy="161.50" r="1.75"/><circle cx="621.14" cy="175.50" r="1.75"/><circle cx="626.35" cy="187.65" r="1.75"/><circle cx="631.55" cy="197.60" r="1.75"/><circle cx="636.76" cy="206.40" r="1.75"/><circle cx="641.97" cy="212.70" r="1.75"/><circle cx="647.18" cy="218.20" r="1.75"/></g><g fill="#0000ff"><circle cx="61.96" cy="42.15" r="1.75"/><circle cx="67.17" cy="42.25" r="1.75"/><circle cx="72.37" cy="42.50" r="1.75"/><circle cx="77.58" cy="43.00" r="1.75"/><circle cx="82.78" cy="43.40" r="1.75"/><circle cx="87.99" cy="44.00" r="1.75"/><circle cx="93.20" cy="44.70" r="1.75"/><circle cx="98.40" cy="45.75" r="1.75"/><circle cx="103.61" cy="47.10" r="1.75"/><circle cx="108.82" cy="48.87" r="1.75"/><circle cx="114.02" cy="51.00" r="1.75"/><circle cx="119.23" cy="53.40" r="1.75"/><circle cx="124.44" cy="56.65" r="1.75"/><circle cx="129.64" cy="60.40" r="1.75"/><circle cx="134.85" cy="64.65" r="1.75"/><circle cx="140.05" cy="68.95" r="1.75"/><circle cx="145.26" cy="73.30" r="1.75"/><circle cx="150.47" cy="78.23" r="1.75"/><circle cx="155.67" cy="83.03" r="1.75"/><circle cx="160.88" cy="88.25" r="1.75"/><circle cx="166.09" cy="93.30" r="1.75"/><circle cx="171.29" cy="98.70" r="1.75"/><circle cx="176.50" cy="104.15" r="1.75"/><circle cx="181.70" cy="109.35" r="1.75"/><circle cx="186.91" cy="114.80" r="1.75"/><circle cx="192.12" cy="120.20" r="1.75"/><circle cx="197.32" cy="125.75" r="1.75"/><circle cx="202.53" cy="131.20" r="1.75"/><circle cx="207.74" cy="136.60" r="1.75"/><circle cx="212.94" cy="141.85" r="1.75"/><circle cx="218.15" cy="147.50" r="1.75"/><circle cx="223.35" cy="152.90" r="1.75"/><circle cx="228.56" cy="158.40" r="1.75"/><circle cx="233.77" cy="163.65" r="1.75"/><circle cx="238.97" cy="168.95" r="1.75"/><circle cx="244.18" cy="174.30" r="1.75"/><circle cx="249.38" cy="179.60" r="1.75"/><circle cx="254.59" cy="184.60" r="1.75"/><circle cx="259.80" cy="189.85" r="1.75"/><circle cx="265.00" cy="194.70" r="1.75"/><circle cx="270.21" cy="199.70" r="1.75"/><circle cx="275.42" cy="204.60" r="1.75"/><circle cx="280.62" cy="208.63" r="1.75"/><circle cx="285.83" cy="212.67" r="1.75"/><circle cx="291.03" cy="216.10" r="1.75"/><circle cx="296.24" cy="219.10" r="1.75"/><circle cx="301.45" cy="222.10" r="1.75"/><circle cx="306.65" cy="224.15" r="1.75"/><circle cx="311.86" cy="226.05" r="1.75"/><circle cx="397.16" cy="224.90" r="1.75"/><circle cx="402.37" cy="221.95" r="1.75"/><circle cx="407.58" cy="218.25" r="1.75"/><circle cx="412.79" cy="213.75" r="1.75"/><circle cx="418.00" cy="208.10" r="1.75"/><circle cx="423.20" cy="200.85" r="1.75"/><circle cx="428.41" cy="192.80" r="1.75"/><circle cx="433.62" cy="183.50" r="1.75"/><circle cx="438.83" cy="172.70" r="1.75"/><circle cx="444.04" cy="160.20" r="1.75"/><circle cx="449.25" cy="147.40" r="1.75"/><circle cx="454.46" cy="134.60" r="1.75"/><circle cx="459.67" cy="121.50" r="1.75"/><circle cx="464.87" cy="108.95" r="1.75"/><circle cx="470.08" cy="97.55" r="1.75"/><circle cx="475.29" cy="87.70" r="1.75"/><circle cx="480.50" cy="78.70" r="1.75"/><circle cx="485.71" cy="71.35" r="1.75"/><circle cx="490.92" cy="65.30" r="1.75"/><circle cx="496.13" cy="60.20" r="1.75"/><circle cx="501.34" cy="56.00" r="1.75"/><circle cx="506.54" cy="53.05" r="1.75"/><circle cx="511.75" cy="50.40" r="1.75"/><circle cx="516.96" cy="48.50" r="1.75"/><circle cx="522.17" cy="46.90" r="1.75"/><circle cx="527.38" cy="45.90" r="1.75"/><circle cx="532.59" cy="45.10" r="1.75"/><circle cx="537.80" cy="44.50" r="1.75"/><circle cx="543.00" cy="44.50" r="1.75"/><circle cx="548.21" cy="44.50" r="1.75"/><circle cx="553.42" cy="45.10" r="1.75"/><circle cx="558.63" cy="45.90" r="1.75"/><circle cx="563.84" cy="47.10" r="1.75"/><circle cx="569.05" cy="48.90" r="1.75"/><circle cx="574.26" cy="51.00" r="1.75"/><circle cx="579.47" cy="53.20" r="1.75"/><circle cx="584.68" cy="56.30" r="1.75"/><circle cx="589.88" cy="60.20" r="1.75"/><circle cx="595.09" cy="65.40" r="1.75"/><circle cx="600.30" cy="71.30" r="1.75"/><circle cx="605.51" cy="78.50" r="1.75"/><circle cx="610.72" cy="87.40" r="1.75"/><circle cx="615.93" cy="98.00" r="1.75"/><circle cx="621.14" cy="109.20" r="1.75"/><circle cx="626.35" cy="121.60" r="1.75"/><circle cx="631.55" cy="134.80" r="1.75"/><circle cx="636.76" cy="148.20" r="1.75"/><circle cx="641.97" cy="160.90" r="1.75"/><circle cx="647.18" cy="172.95" r="1.75"/></g><g fill="#ff0000"><circle cx="61.96" cy="65.50" r="1.75"/><circle cx="67.17" cy="68.30" r="1.75"/><circle cx="72.37" cy="71.60" r="1.75"/><circle cx="77.58" cy="75.20" r="1.75"/><circle cx="82.78" cy="79.50" r="1.75"/><circle cx="87.99" cy="84.00" r="1.75"/><circle cx="93.20" cy="89.20" r="1.75"/><circle cx="98.40" cy="95.20" r="1.75"/><circle cx="103.61" cy="100.80" r="1.75"/><circle cx="108.82" cy="106.90" r="1.75"/><circle cx="114.02" cy="112.40" r="1.75"/><circle cx="119.23" cy="118.50" r="1.75"/><circle cx="124.44" cy="124.40" r="1.75"/><circle cx="129.64" cy="130.30" r="1.75"/><circle cx="134.85" cy="136.30" r="1.75"/><circle cx="140.05" cy="142.40" r="1.75"/><circle cx="145.26" cy="148.30" r="1.75"/><circle cx="150.47" cy="154.35" r="1.75"/><circle cx="155.67" cy="160.35" r="1.75"/><circle cx="160.88" cy="166.30" r="1.75"/><circle cx="166.09" cy="172.30" r="1.75"/><circle cx="171.29" cy="178.10" r="1.75"/><circle cx="176.50" cy="183.80" r="1.75"/><circle cx="181.70" cy="189.60" r="1.75"/><circle cx="186.91" cy="194.60" r="1.75"/><circle cx="192.12" cy="200.30" r="1.75"/><circle cx="197.32" cy="205.00" r="1.75"/><circle cx="202.53" cy="209.20" r="1.75"/><circle cx="207.74" cy="213.45" r="1.75"/><circle cx="212.94" cy="216.90" r="1.75"/><circle cx="218.15" cy="219.70" r="1.75"/><circle cx="223.35" cy="222.20" r="1.75"/><circle cx="228.56" cy="224.60" r="1.75"/><circle cx="233.77" cy="226.00" r="1.75"/><circle cx="238.97" cy="227.30" r="1.75"/><circle cx="244.18" cy="228.50" r="1.75"/><circle cx="249.38" cy="229.60" r="1.75"/><circle cx="254.59" cy="230.80" r="1.75"/><circle cx="259.80" cy="231.20" r="1.75"/><circle cx="265.00" cy="231.50" r="1.75"/><circle cx="270.21" cy="231.80" r="1.75"/><circle cx="275.42" cy="231.90" r="1.75"/><circle cx="280.62" cy="231.90" r="1.75"/><circle cx="285.83" cy="231.90" r="1.75"/><circle cx="291.03" cy="232.20" r="1.75"/><circle cx="296.24" cy="232.00" r="1.75"/><circle cx="301.45" cy="232.20" r="1.75"/><circle cx="306.65" cy="232.50" r="1.75"/><circle cx="311.86" cy="232.70" r="1.75"/><circle cx="397.16" cy="145.90" r="1.75"/><circle cx="402.37" cy="129.40" r="1.75"/><circle cx="407.58" cy="112.70" r="1.75"/><circle cx="412.79" cy="97.10" r="1.75"/><circle cx="418.00" cy="83.10" r="1.75"/><circle cx="423.20" cy="70.90" r="1.75"/><circle cx="428.41" cy="60.60" r="1.75"/><circle cx="433.62" cy="52.00" r="1.75"/><circle cx="438.83" cy="45.10" r="1.75"/><circle cx="444.04" cy="40.20" r="1.75"/><circle cx="449.25" cy="35.90" r="1.75"/><circle cx="454.46" cy="32.60" r="1.75"/><circle cx="459.67" cy="30.50" r="1.75"/><circle cx="464.87" cy="28.70" r="1.75"/><circle cx="470.08" cy="27.80" r="1.75"/><circle cx="475.29" cy="27.80" r="1.75"/><circle cx="480.50" cy="28.20" r="1.75"/><circle cx="485.71" cy="29.20" r="1.75"/><circle cx="490.92" cy="30.10" r="1.75"/><circle cx="496.13" cy="32.00" r="1.75"/><circle cx="501.34" cy="35.10" r="1.75"/><circle cx="506.54" cy="39.00" r="1.75"/><circle cx="511.75" cy="43.90" r="1.75"/><circle cx="516.96" cy="50.00" r="1.75"/><circle cx="522.17" cy="58.70" r="1.75"/><circle cx="527.38" cy="68.25" r="1.75"/><circle cx="532.59" cy="80.00" r="1.75"/><circle cx="537.80" cy="92.90" r="1.75"/><circle cx="543.00" cy="107.40" r="1.75"/><circle cx="548.21" cy="121.90" r="1.75"/><circle cx="553.42" cy="135.80" r="1.75"/><circle cx="558.63" cy="148.40" r="1.75"/><circle cx="563.84" cy="160.00" r="1.75"/><circle cx="569.05" cy="169.70" r="1.75"/><circle cx="574.26" cy="179.40" r="1.75"/><circle cx="579.47" cy="188.15" r="1.75"/><circle cx="584.68" cy="196.40" r="1.75"/><circle cx="589.88" cy="204.55" r="1.75"/><circle cx="595.09" cy="211.05" r="1.75"/><circle cx="600.30" cy="216.80" r="1.75"/><circle cx="605.51" cy="221.30" r="1.75"/><circle cx="610.72" cy="224.90" r="1.75"/><circle cx="615.93" cy="227.80" r="1.75"/><circle cx="621.14" cy="230.30" r="1.75"/><circle cx="626.35" cy="231.60" r="1.75"/><circle cx="631.55" cy="232.80" r="1.75"/><circle cx="636.76" cy="233.80" r="1.75"/><circle cx="641.97" cy="234.60" r="1.75"/><circle cx="647.18" cy="235.30" r="1.75"/></g><g fill="#008000"><circle cx="61.96" cy="55.95" r="1.75"/><circle cx="67.17" cy="56.55" r="1.75"/><circle cx="72.37" cy="57.40" r="1.75"/><circle cx="77.58" cy="59.10" r="1.75"/><circle cx="82.78" cy="60.80" r="1.75"/><circle cx="87.99" cy="62.75" r="1.75"/><circle cx="93.20" cy="65.10" r="1.75"/><circle cx="98.40" cy="67.25" r="1.75"/><circle cx="103.61" cy="69.75" r="1.75"/><circle cx="108.82" cy="72.00" r="1.75"/><circle cx="114.02" cy="74.75" r="1.75"/><circle cx="119.23" cy="77.65" r="1.75"/><circle cx="124.44" cy="80.70" r="1.75"/><circle cx="129.64" cy="84.30" r="1.75"/><circle cx="134.85" cy="87.80" r="1.75"/><circle cx="140.05" cy="92.27" r="1.75"/><circle cx="145.26" cy="96.57" r="1.75"/><circle cx="150.47" cy="101.15" r="1.75"/><circle cx="155.67" cy="106.25" r="1.75"/><circle cx="160.88" cy="111.35" r="1.75"/><circle cx="166.09" cy="116.30" r="1.75"/><circle cx="171.29" cy="121.25" r="1.75"/><circle cx="176.50" cy="126.67" r="1.75"/><circle cx="181.70" cy="132.25" r="1.75"/><circle cx="186.91" cy="137.25" r="1.75"/><circle cx="192.12" cy="142.30" r="1.75"/><circle cx="197.32" cy="147.60" r="1.75"/><circle cx="202.53" cy="152.75" r="1.75"/><circle cx="207.74" cy="157.90" r="1.75"/><circle cx="212.94" cy="163.20" r="1.75"/><circle cx="218.15" cy="168.70" r="1.75"/><circle cx="223.35" cy="173.70" r="1.75"/><circle cx="228.56" cy="178.60" r="1.75"/><circle cx="233.77" cy="183.90" r="1.75"/><circle cx="238.97" cy="189.00" r="1.75"/><circle cx="244.18" cy="193.70" r="1.75"/><circle cx="249.38" cy="198.45" r="1.75"/><circle cx="254.59" cy="202.90" r="1.75"/><circle cx="259.80" cy="207.45" r="1.75"/><circle cx="265.00" cy="211.40" r="1.75"/><circle cx="270.21" cy="215.10" r="1.75"/><circle cx="275.42" cy="218.70" r="1.75"/><circle cx="280.62" cy="221.95" r="1.75"/><circle cx="285.83" cy="224.45" r="1.75"/><circle cx="291.03" cy="226.20" r="1.75"/><circle cx="296.24" cy="228.00" r="1.75"/><circle cx="301.45" cy="229.10" r="1.75"/><circle cx="306.65" cy="230.20" r="1.75"/><circle cx="311.86" cy="231.00" r="1.75"/><circle cx="397.16" cy="206.70" r="1.75"/><circle cx="402.37" cy="198.87" r="1.75"/><circle cx="407.58" cy="190.25" r="1.75"/><circle cx="412.79" cy="181.30" r="1.75"/><circle cx="418.00" cy="173.10" r="1.75"/><circle cx="423.20" cy="166.20" r="1.75"/><circle cx="428.41" cy="160.20" r="1.75"/><circle cx="433.62" cy="154.30" r="1.75"/><circle cx="438.83" cy="148.40" r="1.75"/><circle cx="444.04" cy="141.10" r="1.75"/><circle cx="449.25" cy="133.30" r="1.75"/><circle cx="454.46" cy="123.80" r="1.75"/><circle cx="459.67" cy="113.90" r="1.75"/><circle cx="464.87" cy="104.27" r="1.75"/><circle cx="470.08" cy="95.33" r="1.75"/><circle cx="475.29" cy="87.25" r="1.75"/><circle cx="480.50" cy="80.45" r="1.75"/><circle cx="485.71" cy="74.20" r="1.75"/><circle cx="490.92" cy="68.60" r="1.75"/><circle cx="496.13" cy="64.35" r="1.75"/><circle cx="501.34" cy="61.00" r="1.75"/><circle cx="506.54" cy="58.20" r="1.75"/><circle cx="511.75" cy="55.60" r="1.75"/><circle cx="516.96" cy="54.00" r="1.75"/><circle cx="522.17" cy="53.00" r="1.75"/><circle cx="527.38" cy="52.40" r="1.75"/><circle cx="532.59" cy="52.40" r="1.75"/><circle cx="537.80" cy="52.80" r="1.75"/><circle cx="543.00" cy="53.80" r="1.75"/><circle cx="548.21" cy="55.00" r="1.75"/><circle cx="553.42" cy="56.30" r="1.75"/><circle cx="558.63" cy="57.90" r="1.75"/><circle cx="563.84" cy="60.30" r="1.75"/><circle cx="569.05" cy="64.00" r="1.75"/><circle cx="574.26" cy="67.95" r="1.75"/><circle cx="579.47" cy="73.20" r="1.75"/><circle cx="584.68" cy="79.50" r="1.75"/><circle cx="589.88" cy="86.40" r="1.75"/><circle cx="595.09" cy="95.65" r="1.75"/><circle cx="600.30" cy="104.40" r="1.75"/><circle cx="605.51" cy="115.30" r="1.75"/><circle cx="610.72" cy="127.10" r="1.75"/><circle cx="615.93" cy="139.30" r="1.75"/><circle cx="621.14" cy="151.80" r="1.75"/><circle cx="626.35" cy="163.20" r="1.75"/><circle cx="631.55" cy="174.45" r="1.75"/><circle cx="636.76" cy="184.65" r="1.75"/><circle cx="641.97" cy="193.35" r="1.75"/><circle cx="647.18" cy="201.40" r="1.75"/></g><rect x="211.5" y="21.7" width="99.9" height="56.5" fill="#fff" stroke="#8c8c8c" stroke-width="1"/><circle cx="225.3" cy="29.20" r="2.0" fill="#000000"/><text x="238.0" y="33.50" class="lg">BDD</text><circle cx="225.3" cy="42.97" r="2.0" fill="#0000ff"/><text x="238.0" y="47.27" class="lg">BDD + AuNP</text><circle cx="225.3" cy="56.74" r="2.0" fill="#ff0000"/><text x="238.0" y="61.04" class="lg">pBDD</text><circle cx="225.3" cy="70.51" r="2.0" fill="#008000"/><text x="238.0" y="74.81" class="lg">pBDD + AuNP</text><rect x="455.4" y="167.9" width="100.1" height="56.1" fill="#fff" stroke="#8c8c8c" stroke-width="1"/><circle cx="469.4" cy="175.30" r="2.0" fill="#000000"/><text x="481.6" y="179.60" class="lg">BDD</text><circle cx="469.4" cy="189.07" r="2.0" fill="#0000ff"/><text x="481.6" y="193.37" class="lg">BDD + AuNP</text><circle cx="469.4" cy="202.84" r="2.0" fill="#ff0000"/><text x="481.6" y="207.14" class="lg">pBDD</text><circle cx="469.4" cy="216.61" r="2.0" fill="#008000"/><text x="481.6" y="220.91" class="lg">pBDD + AuNP</text><text x="40.4" y="241.50" class="tl" text-anchor="end">10</text><text x="41.5" y="237.00" class="sup">2</text><text x="40.4" y="186.78" class="tl" text-anchor="end">10</text><text x="41.5" y="182.28" class="sup">3</text><text x="40.4" y="132.05" class="tl" text-anchor="end">10</text><text x="41.5" y="127.55" class="sup">4</text><text x="40.4" y="77.33" class="tl" text-anchor="end">10</text><text x="41.5" y="72.83" class="sup">5</text><text x="40.4" y="22.60" class="tl" text-anchor="end">10</text><text x="41.5" y="18.10" class="sup">6</text><text x="74.50" y="254.9" class="tl" text-anchor="middle"><tspan>10</tspan><tspan class="sup" dy="-4.7">-1</tspan></text><text x="409.70" y="254.9" class="tl" text-anchor="middle"><tspan>10</tspan><tspan class="sup" dy="-4.7">-1</tspan></text><text x="116.15" y="254.9" class="tl" text-anchor="middle"><tspan>10</tspan><tspan class="sup" dy="-4.7">0</tspan></text><text x="451.37" y="254.9" class="tl" text-anchor="middle"><tspan>10</tspan><tspan class="sup" dy="-4.7">0</tspan></text><text x="157.80" y="254.9" class="tl" text-anchor="middle"><tspan>10</tspan><tspan class="sup" dy="-4.7">1</tspan></text><text x="493.04" y="254.9" class="tl" text-anchor="middle"><tspan>10</tspan><tspan class="sup" dy="-4.7">1</tspan></text><text x="199.45" y="254.9" class="tl" text-anchor="middle"><tspan>10</tspan><tspan class="sup" dy="-4.7">2</tspan></text><text x="534.71" y="254.9" class="tl" text-anchor="middle"><tspan>10</tspan><tspan class="sup" dy="-4.7">2</tspan></text><text x="241.10" y="254.9" class="tl" text-anchor="middle"><tspan>10</tspan><tspan class="sup" dy="-4.7">3</tspan></text><text x="576.38" y="254.9" class="tl" text-anchor="middle"><tspan>10</tspan><tspan class="sup" dy="-4.7">3</tspan></text><text x="282.75" y="254.9" class="tl" text-anchor="middle"><tspan>10</tspan><tspan class="sup" dy="-4.7">4</tspan></text><text x="618.05" y="254.9" class="tl" text-anchor="middle"><tspan>10</tspan><tspan class="sup" dy="-4.7">4</tspan></text><text x="324.40" y="254.9" class="tl" text-anchor="middle"><tspan>10</tspan><tspan class="sup" dy="-4.7">5</tspan></text><text x="659.72" y="254.9" class="tl" text-anchor="middle"><tspan>10</tspan><tspan class="sup" dy="-4.7">5</tspan></text><text x="380.2" y="240.50" class="tl" text-anchor="end">0</text><text x="380.2" y="213.16" class="tl" text-anchor="end">10</text><text x="380.2" y="185.82" class="tl" text-anchor="end">20</text><text x="380.2" y="158.49" class="tl" text-anchor="end">30</text><text x="380.2" y="131.15" class="tl" text-anchor="end">40</text><text x="380.2" y="103.81" class="tl" text-anchor="end">50</text><text x="380.2" y="76.47" class="tl" text-anchor="end">60</text><text x="380.2" y="49.14" class="tl" text-anchor="end">70</text><text x="380.2" y="21.80" class="tl" text-anchor="end">80</text><text x="188.6" y="274.8" class="ttl" text-anchor="middle">Frequency (<tspan class="ser">Hz</tspan>)</text><text x="523.9" y="274.8" class="ttl" text-anchor="middle">Frequency (<tspan class="ser">Hz</tspan>)</text><text transform="translate(23.6,127.0) rotate(-90)" class="ttl" text-anchor="middle">|Z| (Ω)</text><text transform="translate(362.3,128.2) rotate(-90)" class="ttl" text-anchor="middle">-phase angle (degree)</text><text x="1.0" y="12.6" class="pl">a)</text><text x="336.2" y="12.6" class="pl">b)</text></svg>
</body></html>
